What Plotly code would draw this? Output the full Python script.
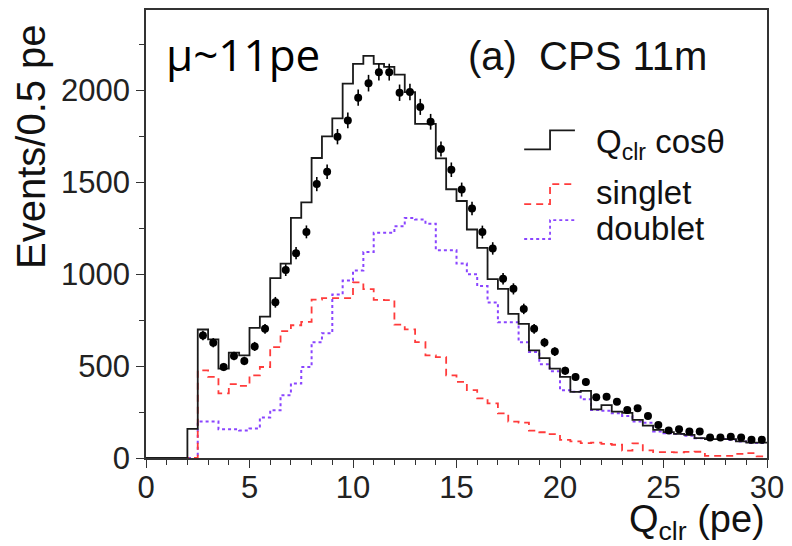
import numpy as np
import plotly.graph_objects as go

# ---------------- data ----------------
bin_lo = np.arange(0, 30, 0.5)          # lower edges of the 0.5 pe bins
x_max = 30.0

qclr_cos = [0, 0, 0, 0, 158, 699, 645, 486, 573, 558,
            708, 769, 978, 1057, 1306, 1391, 1632, 1750, 1847, 2037,
            2144, 2187, 2144, 2128, 2086, 1990, 1818, 1818, 1630, 1462,
            1398, 1243, 1143, 973, 920, 784, 730, 585, 543, 486,
            441, 360, 365, 265, 288, 252, 246, 207, 176, 153,
            141, 131, 126, 108, 103, 103, 103, 90, 84, 84]

singlet = [0, 0, 0, 0, 0, 477, 441, 351, 402, 392,
           450, 495, 603, 690, 722, 740, 862, 870, 870, 870,
           955, 919, 860, 859, 725, 700, 630, 558, 549, 450,
           414, 369, 324, 297, 243, 198, 192, 149, 140, 130,
           99, 90, 81, 84, 77, 72, 40, 80, 41, 32,
           32, 31, 33, 34, 12, 12, 12, 22, 27, 9]

doublet = [0, 0, 0, 0, 0, 198, 198, 157, 157, 150,
           160, 220, 260, 342, 405, 495, 630, 679, 890, 965,
           1020, 1120, 1225, 1225, 1261, 1306, 1297, 1274, 1130, 1130,
           1058, 1000, 935, 846, 738, 738, 630, 576, 510, 472,
           369, 360, 319, 261, 257, 243, 229, 198, 192, 144,
           135, 131, 121, 108, 103, 103, 99, 90, 81, 81]

data_x = np.arange(2.75, 30, 0.5)
data_y = [667, 627, 495, 555, 528, 607, 703, 847, 1022, 1114,
          1230, 1490, 1557, 1748, 1836, 1960, 2039, 2099, 2099, 1987,
          1991, 1910, 1829, 1681, 1568, 1460, 1357, 1229, 1140, 975,
          920, 811, 703, 628, 579, 474, 441, 414, 330, 333,
          306, 261, 270, 229, 180, 149, 157, 144, 144, 111,
          111, 115, 111, 99, 99]

x_ticks = [0, 5, 10, 15, 20, 25, 30]
y_ticks = [0, 500, 1000, 1500, 2000]

# ---------------- styling ----------------
W, H = 792, 546
ML, MR, MT, MB = 146, 22, 8, 88
PW, PH = W - ML - MR, H - MT - MB
FONT = "Liberation Sans"
C_BLACK = "#1a1a1a"
C_RED = "#ff3b3b"
C_PURPLE = "#8a45ff"


def px(xp):
    return (xp - ML) / PW


def py(yp):
    return (H - MB - yp) / PH


def step_xy(vals):
    xs = list(bin_lo) + [x_max]
    ys = list(vals) + [vals[-1]]
    return xs, ys


fig = go.Figure()

for vals, col, dash, w in [(doublet, C_PURPLE, "dot", 2.0),
                           (singlet, C_RED, "7px,5px", 1.8),
                           (qclr_cos, C_BLACK, "solid", 1.8)]:
    xs, ys = step_xy(vals)
    fig.add_trace(go.Scatter(x=xs, y=ys, mode="lines",
                             line=dict(shape="hv", color=col, dash=dash, width=w),
                             showlegend=False, hoverinfo="skip"))

fig.add_trace(go.Scatter(
    x=data_x, y=data_y, mode="markers",
    marker=dict(symbol="circle", size=8, color="black"),
    error_y=dict(type="data", array=np.sqrt(np.array(data_y, dtype=float)),
                 visible=True, color="black", thickness=1.6, width=0),
    showlegend=False, hoverinfo="skip"))

axis_common = dict(showgrid=False, zeroline=False, showline=True, mirror=True,
                   linecolor="#333333", linewidth=1.6, ticks="outside",
                   tickcolor="#333333", tickwidth=1.3,
                   tickfont=dict(family=FONT, size=31, color="#222222"))

fig.update_xaxes(range=[0, 30], tickvals=x_ticks, ticklen=8, ticklabelstandoff=-7,
                 minor=dict(dtick=1, ticklen=5, ticks="outside", tickcolor="#333333"),
                 **axis_common)
fig.update_yaxes(range=[0, 2437], tickvals=y_ticks, ticklen=8,
                 minor=dict(dtick=250, ticklen=5, ticks="outside", tickcolor="#333333"),
                 **axis_common)

annotations = [
    dict(x=px(770), y=py(522), text="Q<sub>clr</sub> (pe)", xanchor="right", yanchor="middle",
         font=dict(family=FONT, size=38, color="#111111")),
    dict(x=px(31), y=py(20), text="Events/0.5 pe", textangle=-90, xanchor="center", yanchor="top",
         font=dict(family=FONT, size=40, color="#111111")),
    dict(x=px(164), y=py(52), text="μ~11pe", xanchor="left", yanchor="middle",
         font=dict(family="Open Sans", size=44, color="black")),
    dict(x=px(468), y=py(54), text="(a)  CPS 11m", xanchor="left", yanchor="middle",
         font=dict(family=FONT, size=40, color="#111111")),
    dict(x=px(596), y=py(143), text="Q<sub>clr</sub> cosθ", xanchor="left", yanchor="middle",
         font=dict(family=FONT, size=33, color="#111111")),
    dict(x=px(596), y=py(191), text="singlet", xanchor="left", yanchor="middle",
         font=dict(family=FONT, size=33, color="#111111")),
    dict(x=px(596), y=py(227), text="doublet", xanchor="left", yanchor="middle",
         font=dict(family=FONT, size=33, color="#111111")),
]
for a in annotations:
    a.update(xref="paper", yref="paper", showarrow=False)

shapes = []
for (ylo, yhi, col, dash) in [(148, 129, C_BLACK, "solid"),
                              (203, 183, C_RED, "7px,5px"),
                              (238, 219, C_PURPLE, "dot")]:
    path = (f"M {px(526)},{py(ylo)} L {px(552)},{py(ylo)} "
            f"L {px(552)},{py(yhi)} L {px(577)},{py(yhi)}")
    shapes.append(dict(type="path", xref="paper", yref="paper", path=path,
                       line=dict(color=col, width=1.8, dash=dash)))

fig.update_layout(width=W, height=H,
                  margin=dict(l=ML, r=MR, t=MT, b=MB, pad=0),
                  paper_bgcolor="white", plot_bgcolor="white",
                  annotations=annotations, shapes=shapes,
                  showlegend=False)

fig.write_html("out.html")
